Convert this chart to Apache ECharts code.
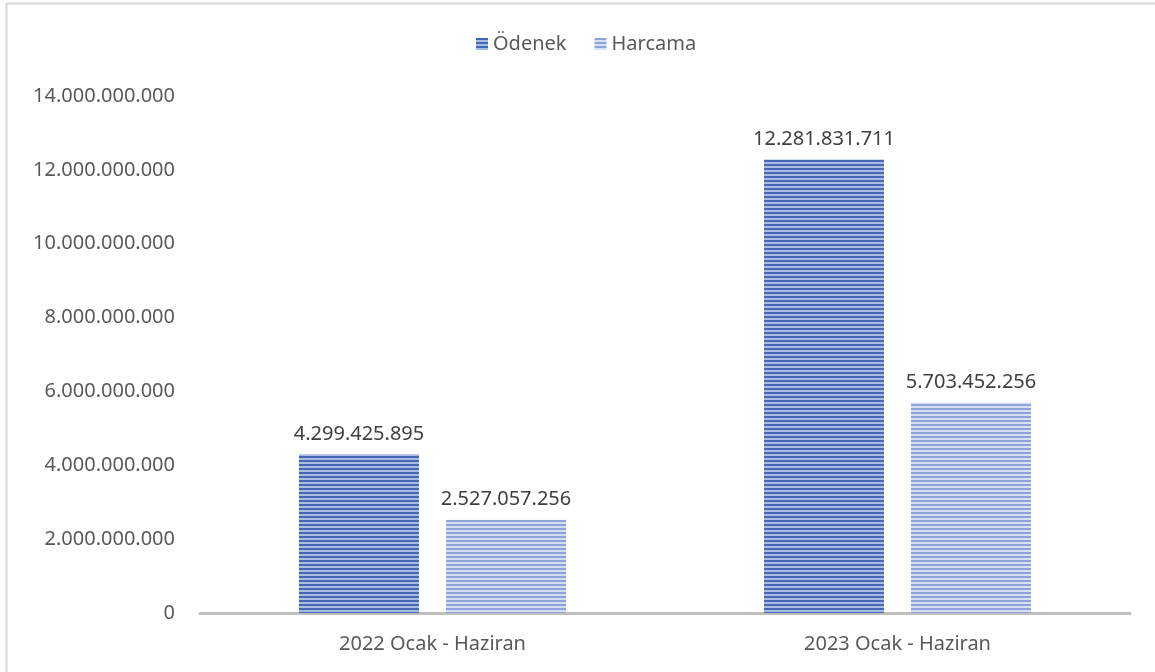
<!DOCTYPE html>
<html><head><meta charset="utf-8">
<script src="https://cdn.jsdelivr.net/npm/echarts@6/dist/echarts.min.js"></script>
<style>html,body{margin:0;padding:0;background:#fff}#c{width:1155px;height:672px}</style>
</head><body><div id="c"></div>
<script>
const categories = ['2022 Ocak - Haziran', '2023 Ocak - Haziran'];
const seriesNames = ['Ödenek', 'Harcama'];
const odenek = [4299425895, 12281831711];
const harcama = [2527057256, 5703452256];

function stripes(dark, light) {
  const c = document.createElement('canvas');
  c.width = 4; c.height = 4;
  const g = c.getContext('2d');
  g.fillStyle = light; g.fillRect(0, 0, 4, 4);
  g.fillStyle = dark; g.fillRect(0, 0, 4, 2);
  return c;
}
const odenekFill = { image: stripes('#4468b4', '#a8bbe4'), repeat: 'repeat' };
const harcamaFill = { image: stripes('#8da3da', '#d6dff3'), repeat: 'repeat' };

function fmt(v) { return String(Math.round(v)).replace(/\B(?=(\d{3})+(?!\d))/g, '.'); }
const font = 'Noto Sans';
const chart = echarts.init(document.getElementById('c'));
chart.setOption({
  animation: false,
  textStyle: { fontFamily: font },
  graphic: [{ type: 'rect', shape: { x: 6.5, y: 3.5, width: 1200, height: 700 }, style: { fill: 'none', stroke: '#d9d9d9', lineWidth: 2 } }],
  legend: {
    top: 29, left: 471, itemWidth: 12, itemHeight: 12, itemGap: 28,
    textStyle: { fontSize: 20, color: '#595959', fontFamily: font },
    data: [{ name: seriesNames[0], icon: 'rect' }, { name: seriesNames[1], icon: 'rect' }]
  },
  grid: { left: 200, right: 25, top: 96, bottom: 59 },
  xAxis: {
    type: 'category', data: categories,
    axisLine: { lineStyle: { color: '#bfbfbf', width: 3 } },
    axisTick: { show: false },
    axisLabel: { fontSize: 20, color: '#595959', margin: 21, fontFamily: font }
  },
  yAxis: {
    type: 'value', min: 0, max: 14000000000, interval: 2000000000,
    splitLine: { show: false }, axisLine: { show: false }, axisTick: { show: false },
    axisLabel: { fontSize: 20, color: '#595959', margin: 25, formatter: fmt, fontFamily: font }
  },
  series: [
    { name: seriesNames[0], type: 'bar', data: odenek, barWidth: 120, barGap: '22.5%',
      itemStyle: { color: odenekFill },
      label: { show: true, position: 'top', distance: 10, fontSize: 20, color: '#404040', formatter: p => fmt(p.value), fontFamily: font } },
    { name: seriesNames[1], type: 'bar', data: harcama, barWidth: 120,
      itemStyle: { color: harcamaFill },
      label: { show: true, position: 'top', distance: 10, fontSize: 20, color: '#404040', formatter: p => fmt(p.value), fontFamily: font } }
  ]
});
</script></body></html>
